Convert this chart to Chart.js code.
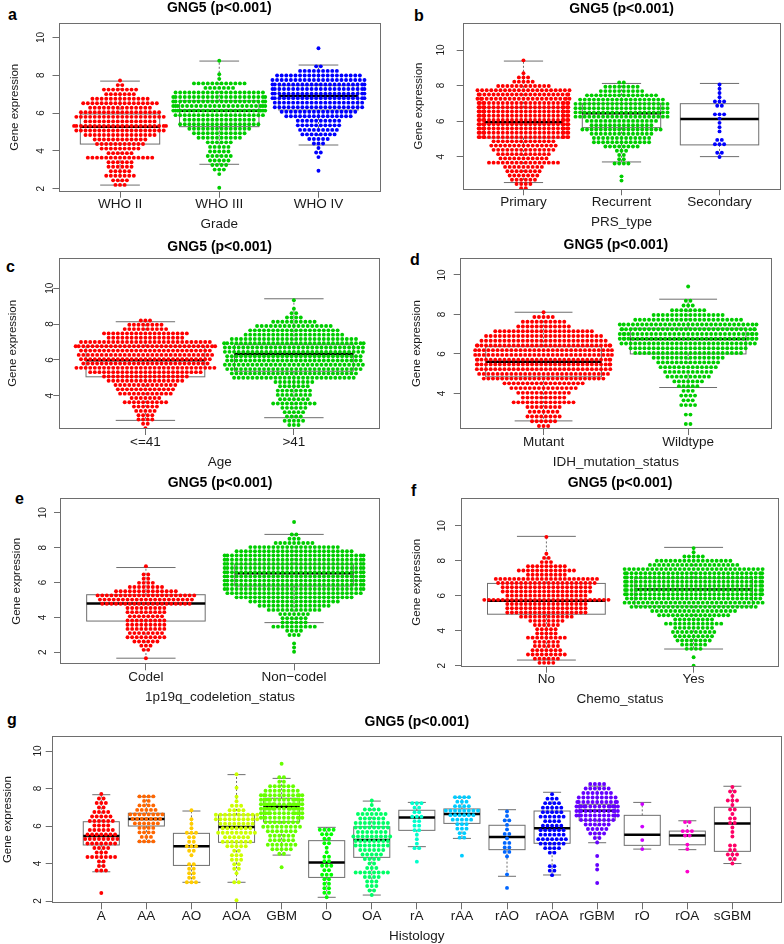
<!DOCTYPE html>
<html>
<head>
<meta charset="utf-8">
<script src="https://cdn.jsdelivr.net/npm/chart.js@4.4.1/dist/chart.umd.min.js"></script>
<style>
  body { margin: 0; background: #fff; width: 784px; height: 944px; position: relative; overflow: hidden; }
  canvas { position: absolute; }
  .tag { position: absolute; font: bold 16px "Liberation Sans", Arial, sans-serif; line-height: 16px; color: #000; }
</style>
</head>
<body>
<div class="tag" style="left:8px;top:7px">a</div>
<div class="tag" style="left:414px;top:8px">b</div>
<div class="tag" style="left:6px;top:259px">c</div>
<div class="tag" style="left:410px;top:252px">d</div>
<div class="tag" style="left:15px;top:491px">e</div>
<div class="tag" style="left:411px;top:483px">f</div>
<div class="tag" style="left:7px;top:712px">g</div>
<script>
// each swarm row sits STEP expression units above the previous one;
// *Low = value of the lowest row, *Rows = number of samples in each row (bottom up)
// *Box = [lower whisker, Q1, median, Q3, upper whisker]
const STEP = 0.24;

const gradeCats = ['WHO II', 'WHO III', 'WHO IV'];
const gradeLow = [2.2, 2.05, 2.95];
const gradeRows = [
  [3, 4, 7, 5, 6, 6, 15, 6, 9, 11, 12, 16, 20, 22, 16, 20, 18, 14, 17, 13, 7, 8, 2, 1],
  [1, 0, 0, 1, 3, 4, 5, 6, 5, 5, 6, 10, 12, 14, 18, 16, 20, 24, 23, 22, 22, 20, 7, 12, 1, 1, 0, 0, 1],
  [1, 0, 0, 1, 2, 1, 3, 5, 8, 9, 10, 10, 15, 17, 20, 20, 22, 22, 22, 22, 21, 19, 9, 2, 0, 0, 0, 1]
];
const gradeBox = [
  [2.19, 4.36, 5.28, 5.95, 7.69],
  [3.29, 5.28, 6.12, 6.65, 8.75],
  [4.31, 6.16, 6.90, 7.45, 8.54]
];

const prsCats = ['Primary', 'Recurrent', 'Secondary'];
const prsLow = [2.22, 2.65, 3.98];
const prsRows = [
  [2, 4, 6, 7, 8, 9, 16, 11, 12, 14, 15, 14, 24, 24, 24, 24, 24, 24, 24, 24, 24, 23, 22, 21, 12, 5, 3, 1, 0, 0, 1],
  [1, 1, 0, 0, 4, 2, 2, 3, 8, 13, 13, 14, 18, 14, 16, 21, 21, 21, 21, 19, 16, 10, 8, 2],
  [1, 2, 0, 3, 2, 0, 1, 1, 1, 1, 3, 0, 2, 3, 1, 1, 1, 1]
];
const prsBox = [
  [2.54, 5.05, 5.93, 6.75, 9.38],
  [3.70, 5.63, 6.44, 7.00, 8.12],
  [4.00, 4.66, 6.12, 6.98, 8.12]
];

const ageCats = ['<=41', '>41'];
const ageLow = [2.2, 2.37];
const ageRows = [
  [1, 2, 4, 4, 5, 6, 10, 7, 12, 13, 14, 17, 19, 25, 31, 28, 29, 30, 29, 32, 29, 17, 19, 10, 8, 3],
  [3, 5, 4, 5, 6, 10, 7, 8, 8, 7, 9, 27, 28, 30, 31, 30, 30, 31, 31, 32, 28, 22, 20, 17, 10, 4, 2, 1, 0, 1]
];
const ageBox = [
  [2.63, 5.06, 5.98, 6.76, 8.13],
  [2.78, 5.37, 6.33, 6.85, 9.41]
];

const idhCats = ['Mutant', 'Wildtype'];
const idhLow = [2.35, 2.45];
const idhRows = [
  [3, 6, 8, 7, 8, 14, 10, 12, 15, 18, 27, 29, 30, 32, 32, 31, 31, 32, 28, 26, 22, 12, 10, 5, 1],
  [2, 0, 2, 0, 4, 3, 4, 3, 5, 7, 10, 11, 13, 14, 16, 24, 26, 30, 33, 33, 32, 31, 24, 16, 8, 3, 2, 0, 0, 1]
];
const idhBox = [
  [2.61, 4.84, 5.60, 6.37, 8.11],
  [4.30, 6.00, 6.76, 7.30, 8.77]
];

const codelCats = ['Codel', 'Non\u2212codel'];
const codelLow = [1.66, 2.03];
const codelRows = [
  [1, 0, 2, 3, 6, 9, 8, 9, 9, 9, 8, 9, 9, 20, 21, 22, 14, 8, 4, 2, 2, 0, 1],
  [1, 1, 1, 0, 3, 4, 10, 6, 6, 7, 12, 16, 20, 26, 30, 32, 32, 32, 32, 32, 32, 32, 32, 32, 26, 20, 9, 3, 2, 0, 0, 1]
];
const codelBox = [
  [1.66, 3.79, 4.80, 5.30, 6.86],
  [3.70, 5.80, 6.53, 7.05, 8.76]
];

const chemoCats = ['No', 'Yes'];
const chemoLow = [2.16, 2.0];
const chemoRows = [
  [4, 6, 9, 7, 6, 6, 9, 5, 5, 6, 8, 12, 18, 18, 18, 28, 18, 20, 20, 22, 23, 9, 13, 9, 3, 2, 1, 0, 0, 0, 1],
  [1, 0, 1, 0, 4, 6, 8, 9, 10, 9, 13, 9, 16, 19, 28, 31, 30, 32, 32, 32, 32, 32, 32, 31, 20, 17, 5, 1, 1]
];
const chemoBox = [
  [2.32, 4.94, 5.71, 6.70, 9.39],
  [2.95, 5.40, 6.35, 7.00, 8.76]
];

const histCats = ['A', 'AA', 'AO', 'AOA', 'GBM', 'O', 'OA', 'rA', 'rAA', 'rAO', 'rAOA', 'rGBM', 'rO', 'rOA', 'sGBM'];
const histLow = [2.43, 5.18, 3.0, 2.04, 3.8, 2.2, 2.32, 4.1, 4.42, 2.7, 3.38, 2.96, 4.77, 3.57, 4.0];
const histRows = [
  [1, 0, 0, 0, 0, 3, 2, 2, 7, 3, 4, 7, 8, 7, 6, 4, 6, 5, 4, 2, 3, 2, 1],
  [4, 3, 4, 4, 6, 7, 8, 5, 4, 2, 4],
  [3, 2, 2, 2, 2, 0, 1, 2, 3, 2, 2, 3, 1, 1, 1, 0, 1],
  [1, 0, 0, 0, 2, 0, 1, 2, 2, 3, 3, 2, 5, 7, 6, 9, 7, 8, 10, 10, 4, 3, 1, 1, 0, 1, 0, 0, 1],
  [1, 0, 0, 2, 5, 7, 6, 6, 7, 9, 8, 12, 14, 16, 16, 14, 12, 8, 6, 2, 2, 0, 0, 1],
  [1, 2, 2, 2, 2, 3, 2, 3, 2, 2, 1, 1, 2, 2, 3, 4],
  [1, 2, 3, 3, 4, 8, 3, 2, 4, 5, 6, 8, 8, 9, 7, 8, 8, 6, 7, 4, 1, 1],
  [1, 0, 0, 2, 1, 1, 1, 2, 2, 2, 3, 2, 2, 3],
  [1, 0, 0, 0, 2, 2, 3, 3, 5, 6, 8, 4, 3, 4],
  [1, 0, 0, 1, 0, 0, 0, 1, 2, 2, 2, 1, 2, 1, 1, 2, 1, 1],
  [1, 2, 2, 0, 0, 2, 4, 6, 7, 6, 6, 5, 4, 6, 5, 5, 4, 3, 1],
  [1, 0, 0, 1, 1, 0, 1, 0, 0, 1, 2, 4, 5, 6, 8, 12, 12, 14, 11, 9, 7, 6, 4],
  [1, 0, 1, 0, 0, 1, 0, 0, 0, 0, 1],
  [1, 0, 0, 0, 0, 1, 1, 0, 2, 3, 0, 2],
  [1, 2, 3, 2, 2, 0, 1, 1, 1, 2, 2, 1, 2, 1, 3, 1, 2, 1]
];
const histBox = [
  [3.56, 4.99, 5.47, 6.23, 7.67],
  [5.16, 6.00, 6.37, 6.68, 7.56],
  [3.00, 3.90, 4.92, 5.61, 6.80],
  [3.00, 5.13, 5.95, 6.59, 8.74],
  [4.45, 6.23, 7.03, 7.48, 8.54],
  [2.20, 3.26, 4.06, 5.22, 5.93],
  [2.32, 4.33, 5.25, 5.96, 7.33],
  [4.90, 5.77, 6.46, 6.84, 7.26],
  [5.34, 6.14, 6.64, 6.91, 7.53],
  [3.32, 4.74, 5.41, 6.04, 6.87],
  [3.39, 5.08, 5.88, 6.80, 7.80],
  [5.11, 6.30, 6.82, 7.16, 8.13],
  [4.77, 4.97, 5.54, 6.57, 7.26],
  [4.74, 5.00, 5.50, 5.73, 6.28],
  [4.00, 4.65, 6.14, 7.00, 8.12]
];

const FONT = '"Liberation Sans", Arial, sans-serif';
const AXIS = '#6e6e6e';
const TEXT = '#1a1a1a';
const TITLE_SIZE = 14;
const DOT_PX = 4.6;   // centre distance of neighbouring dots
const DOT_R = 1.95;
const CORRAL = 0.95;  // swarm wraps inside this width (x units)
const RGB = ['#FF0000', '#00CD00', '#0000FF'];
const RAINBOW = ['#FF0000', '#FF6600', '#FFCC00', '#CCFF00', '#66FF00', '#00FF00', '#00FF66', '#00FFCC',
  '#00CCFF', '#0066FF', '#0000FF', '#6600FF', '#CC00FF', '#FF00CC', '#FF0066'];

const measure = document.createElement('canvas').getContext('2d');
measure.font = '10px ' + FONT;
const tenWidth = measure.measureText('10').width;

const line = (ctx, x1, y1, x2, y2) => {
  ctx.beginPath();
  ctx.moveTo(x1, y1);
  ctx.lineTo(x2, y2);
  ctx.stroke();
};

function drawBoxes(chart, stats) {
  const { ctx, scales: { x, y } } = chart;
  ctx.save();
  stats.forEach((s, i) => {
    const c = x.getPixelForValue(i + 1);
    const hw = x.getPixelForValue(i + 1.4) - c;
    const cap = hw / 2;
    const [lo, q1, md, q3, hi] = s.map(v => y.getPixelForValue(v));
    ctx.strokeStyle = AXIS;
    ctx.lineWidth = 1;
    ctx.setLineDash([2, 2]);
    line(ctx, c, q3, c, hi);
    line(ctx, c, q1, c, lo);
    ctx.setLineDash([]);
    line(ctx, c - cap, hi, c + cap, hi);
    line(ctx, c - cap, lo, c + cap, lo);
    ctx.strokeRect(c - hw, q3, 2 * hw, q1 - q3);
    ctx.strokeStyle = '#000';
    ctx.lineWidth = 2.5;
    line(ctx, c - hw, md, c + hw, md);
  });
  ctx.restore();
}

const framePlugin = {
  id: 'frame',
  afterDraw(chart) {
    const { ctx, chartArea: a } = chart;
    ctx.save();
    ctx.strokeStyle = AXIS;
    ctx.lineWidth = 1;
    ctx.strokeRect(Math.round(a.left) + 0.5, Math.round(a.top) + 0.5,
      Math.round(a.right - a.left) - 1, Math.round(a.bottom - a.top) - 1);
    ctx.restore();
  }
};

function makePanel(p) {
  const [cx, cy, cw, ch] = p.canvas;
  const [pl, pt, pr, pb] = p.plot;
  const cv = document.createElement('canvas');
  cv.width = cw;
  cv.height = ch;
  cv.style.left = cx + 'px';
  cv.style.top = cy + 'px';
  document.body.appendChild(cv);

  const n = p.cats.length;
  const half = TITLE_SIZE * 0.6;
  const axisGrid = { display: true, drawOnChartArea: false, drawTicks: true, tickLength: 6, color: AXIS, tickColor: AXIS };

  const chart = new Chart(cv, {
    type: 'scatter',
    data: {
      datasets: p.cats.map((c, i) => ({
        label: c,
        data: [],
        backgroundColor: p.colors[i],
        pointRadius: DOT_R,
        pointBorderWidth: 0,
        pointHoverRadius: DOT_R
      }))
    },
    options: {
      responsive: false,
      animation: false,
      events: [],
      layout: { padding: { left: 0, top: 0, right: cx + cw - pr, bottom: 0 } },
      plugins: {
        legend: { display: false },
        tooltip: { enabled: false },
        title: {
          display: true,
          text: 'GNG5 (p<0.001)',
          fullSize: false,
          color: '#000',
          font: { family: FONT, size: TITLE_SIZE, weight: 'bold', lineHeight: 1.2 },
          padding: { top: Math.max(0, p.titleY - cy - half), bottom: pt - Math.max(p.titleY, cy + half) - half }
        }
      },
      scales: {
        x: {
          type: 'linear',
          min: 0.5 - 0.04 * n,
          max: n + 0.5 + 0.04 * n,
          afterBuildTicks: s => { s.ticks = p.cats.map((c, i) => ({ value: i + 1 })); },
          afterFit: s => { s.height = cy + ch - pb; },
          grid: axisGrid,
          border: { display: false },
          ticks: {
            autoSkip: false, minRotation: 0, maxRotation: 0, padding: 0.3, color: TEXT,
            font: { family: FONT, size: 13.5, lineHeight: 1 },
            callback: v => p.cats[v - 1]
          },
          title: {
            display: true, text: p.xTitle, color: TEXT,
            font: { family: FONT, size: 13.5, lineHeight: 1.2 },
            padding: { top: 0, bottom: Math.max(0, cy + ch - (pb + 33) - 8.1) }
          }
        },
        y: {
          min: p.ymin,
          max: p.ymax,
          afterBuildTicks: s => {
            s.ticks = [2, 4, 6, 8, 10].filter(v => v >= p.ymin && v <= p.ymax).map(v => ({ value: v }));
          },
          afterFit: s => { s.width = pl - cx; },
          grid: axisGrid,
          border: { display: false },
          ticks: {
            autoSkip: false, minRotation: 90, maxRotation: 90, crossAlign: 'center',
            padding: p.tickGap - 6 - tenWidth / 2, color: TEXT,
            font: { family: FONT, size: 10 }
          },
          title: {
            display: true, text: 'Gene expression', color: TEXT,
            font: { family: FONT, size: 11.5, lineHeight: 1.2 },
            padding: { top: p.yTitleX - cx - 6.9, bottom: 0 }
          }
        }
      }
    },
    plugins: [{ id: 'boxes', beforeDatasetsDraw: c => drawBoxes(c, p.box) }, framePlugin]
  });

  // lay out each row of the swarm side by side, centred on its category
  const sx = chart.scales.x;
  const unit = sx.getPixelForValue(1) - sx.getPixelForValue(0);
  const dx = DOT_PX / unit;
  chart.data.datasets.forEach((ds, g) => {
    const pts = [];
    p.rows[g].forEach((count, k) => {
      const v = p.low[g] + k * STEP;
      for (let i = 0; i < count; i++) {
        let off = (i - (count - 1) / 2) * dx;
        off = (((off + CORRAL / 2) % CORRAL) + CORRAL) % CORRAL - CORRAL / 2;
        pts.push({ x: g + 1 + off, y: v });
      }
    });
    ds.data = pts;
  });
  chart.update('none');
  return chart;
}

const panels = [
  { cats: gradeCats, low: gradeLow, rows: gradeRows, box: gradeBox, colors: RGB, xTitle: 'Grade',
    canvas: [0, 0, 392, 236], plot: [58.5, 22.7, 380, 191.7], titleY: 8.3, yTitleX: 15, tickGap: 16.8, ymin: 1.84, ymax: 10.78 },
  { cats: prsCats, low: prsLow, rows: prsRows, box: prsBox, colors: RGB, xTitle: 'PRS_type',
    canvas: [392, 0, 392, 236], plot: [462.7, 22.7, 780.3, 189.3], titleY: 8.7, yTitleX: 418.7, tickGap: 21.4, ymin: 2.16, ymax: 11.54 },
  { cats: ageCats, low: ageLow, rows: ageRows, box: ageBox, colors: RGB, xTitle: 'Age',
    canvas: [0, 236, 392, 236], plot: [59.3, 257.7, 380, 429], titleY: 246.7, yTitleX: 13.3, tickGap: 9, ymin: 2.15, ymax: 11.7 },
  { cats: idhCats, low: idhLow, rows: idhRows, box: idhBox, colors: RGB, xTitle: 'IDH_mutation_status',
    canvas: [392, 236, 392, 236], plot: [459.7, 258.3, 772, 429], titleY: 245, yTitleX: 417, tickGap: 17.7, ymin: 2.2, ymax: 10.84 },
  { cats: codelCats, low: codelLow, rows: codelRows, box: codelBox, colors: RGB, xTitle: '1p19q_codeletion_status',
    canvas: [0, 472, 392, 236], plot: [60, 498.3, 380, 664.3], titleY: 483, yTitleX: 16.7, tickGap: 16.7, ymin: 1.31, ymax: 10.83 },
  { cats: chemoCats, low: chemoLow, rows: chemoRows, box: chemoBox, colors: RGB, xTitle: 'Chemo_status',
    canvas: [392, 472, 392, 236], plot: [461, 497.7, 779, 666.7], titleY: 483, yTitleX: 417, tickGap: 19, ymin: 1.94, ymax: 11.6 },
  { cats: histCats, low: histLow, rows: histRows, box: histBox, colors: RAINBOW, xTitle: 'Histology',
    canvas: [0, 708, 784, 236], plot: [51.7, 736, 782, 903.3], titleY: 721.7, yTitleX: 8.3, tickGap: 13.4, ymin: 1.88, ymax: 10.8 }
];

panels.forEach(makePanel);
</script>
</body>
</html>
